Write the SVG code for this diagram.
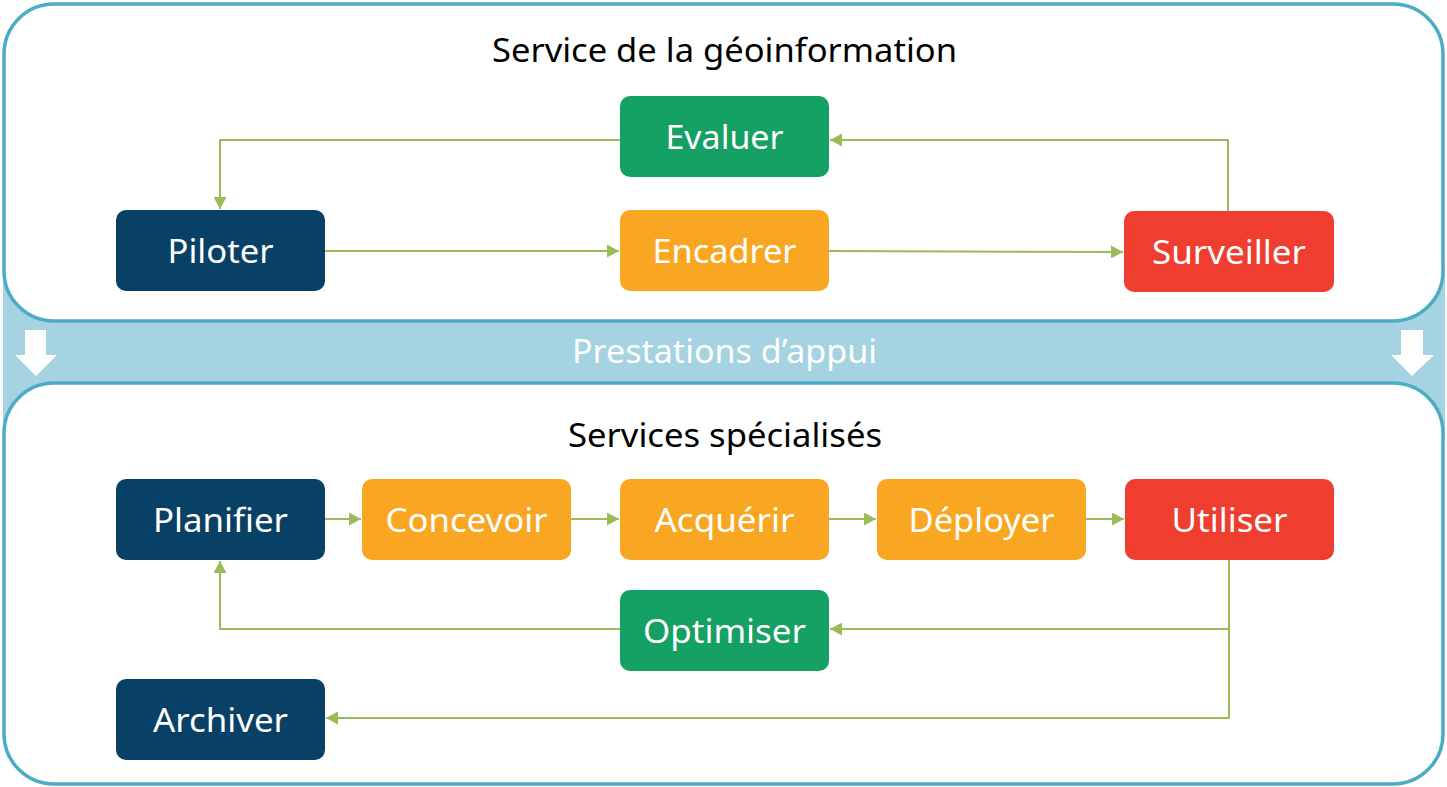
<svg xmlns="http://www.w3.org/2000/svg" width="1447" height="787" viewBox="0 0 1447 787">
<style>
.frame{fill:#ffffff;stroke:#4BACC6;stroke-width:3.5}
.node{rx:10;ry:10}
.navy{fill:#084066}
.orange{fill:#F9A722}
.red{fill:#EF3E30}
.green{fill:#15A064}
.lbl{font-family:"Noto Sans","Open Sans",sans-serif;font-size:33px;fill:#ffffff;text-anchor:middle}
.title{font-family:"Noto Sans","Open Sans",sans-serif;font-size:33px;fill:#000000;text-anchor:middle}
.conn{fill:none;stroke:#9BBB59;stroke-width:2}
</style>
<defs>
<marker id="ah" markerUnits="userSpaceOnUse" markerWidth="13" markerHeight="13" refX="12" refY="6.5" orient="auto" viewBox="0 0 13 13">
<path d="M0,0 L12,6.5 L0,13 z" fill="#9BBB59"/>
</marker>
</defs>
<rect width="1447" height="787" fill="#ffffff"/>
<g id="band">
<rect x="3" y="268" width="1442" height="170" fill="#A5D3E1"/>
</g>
<g id="frame-top">
<rect class="frame" x="4" y="4" width="1439" height="317" rx="50" ry="50"/>
<text class="title" x="724.5" y="62" textLength="465" lengthAdjust="spacingAndGlyphs">Service de la géoinformation</text>
</g>
<g id="frame-bottom">
<rect class="frame" x="4" y="383" width="1439" height="401" rx="50" ry="50"/>
<text class="title" x="725" y="447" textLength="314" lengthAdjust="spacingAndGlyphs">Services spécialisés</text>
</g>
<g id="band-label">
<polygon points="25,330 46,330 46,355 57,355 36,376 15,355 25,355" fill="#ffffff"/>
<polygon points="1401,330 1423,330 1423,355 1434,355 1412,376 1391,355 1401,355" fill="#ffffff"/>
<text class="lbl" x="724.5" y="363" textLength="305" lengthAdjust="spacingAndGlyphs">Prestations d’appui</text>
</g>
<g id="connectors">
<path class="conn" d="M620,140 H220 V209" marker-end="url(#ah)"/>
<path class="conn" d="M1228,211 V140 H830" marker-end="url(#ah)"/>
<path class="conn" d="M325,251 H619" marker-end="url(#ah)"/>
<path class="conn" d="M829,251 L1123,252" marker-end="url(#ah)"/>
<path class="conn" d="M325,519 H361" marker-end="url(#ah)"/>
<path class="conn" d="M571,519 H619" marker-end="url(#ah)"/>
<path class="conn" d="M829,519 H876" marker-end="url(#ah)"/>
<path class="conn" d="M1086,519 H1124" marker-end="url(#ah)"/>
<path class="conn" d="M1229,560 V718 H326" marker-end="url(#ah)"/>
<path class="conn" d="M1229,629 H830" marker-end="url(#ah)"/>
<path class="conn" d="M620,629 H220 V561" marker-end="url(#ah)"/>
</g>
<g id="evaluer">
<rect class="node green" x="620" y="96" width="209" height="81"/>
<text class="lbl" x="724.5" y="149" textLength="118" lengthAdjust="spacingAndGlyphs">Evaluer</text>
</g>
<g id="piloter">
<rect class="node navy" x="116" y="210" width="209" height="81"/>
<text class="lbl" x="220.5" y="263" textLength="106" lengthAdjust="spacingAndGlyphs">Piloter</text>
</g>
<g id="encadrer">
<rect class="node orange" x="620" y="210" width="209" height="81"/>
<text class="lbl" x="724.5" y="263" textLength="144" lengthAdjust="spacingAndGlyphs">Encadrer</text>
</g>
<g id="surveiller">
<rect class="node red" x="1124" y="211" width="210" height="81"/>
<text class="lbl" x="1229" y="264" textLength="154" lengthAdjust="spacingAndGlyphs">Surveiller</text>
</g>
<g id="planifier">
<rect class="node navy" x="116" y="479" width="209" height="81"/>
<text class="lbl" x="220.5" y="532" textLength="135" lengthAdjust="spacingAndGlyphs">Planifier</text>
</g>
<g id="concevoir">
<rect class="node orange" x="362" y="479" width="209" height="81"/>
<text class="lbl" x="466.5" y="532" textLength="162" lengthAdjust="spacingAndGlyphs">Concevoir</text>
</g>
<g id="acquerir">
<rect class="node orange" x="620" y="479" width="209" height="81"/>
<text class="lbl" x="724.5" y="532" textLength="140" lengthAdjust="spacingAndGlyphs">Acquérir</text>
</g>
<g id="deployer">
<rect class="node orange" x="877" y="479" width="209" height="81"/>
<text class="lbl" x="981.5" y="532" textLength="146" lengthAdjust="spacingAndGlyphs">Déployer</text>
</g>
<g id="utiliser">
<rect class="node red" x="1125" y="479" width="209" height="81"/>
<text class="lbl" x="1229.5" y="532" textLength="116" lengthAdjust="spacingAndGlyphs">Utiliser</text>
</g>
<g id="optimiser">
<rect class="node green" x="620" y="590" width="209" height="81"/>
<text class="lbl" x="724.5" y="643" textLength="163" lengthAdjust="spacingAndGlyphs">Optimiser</text>
</g>
<g id="archiver">
<rect class="node navy" x="116" y="679" width="209" height="81"/>
<text class="lbl" x="220.5" y="732" textLength="135" lengthAdjust="spacingAndGlyphs">Archiver</text>
</g>
</svg>
